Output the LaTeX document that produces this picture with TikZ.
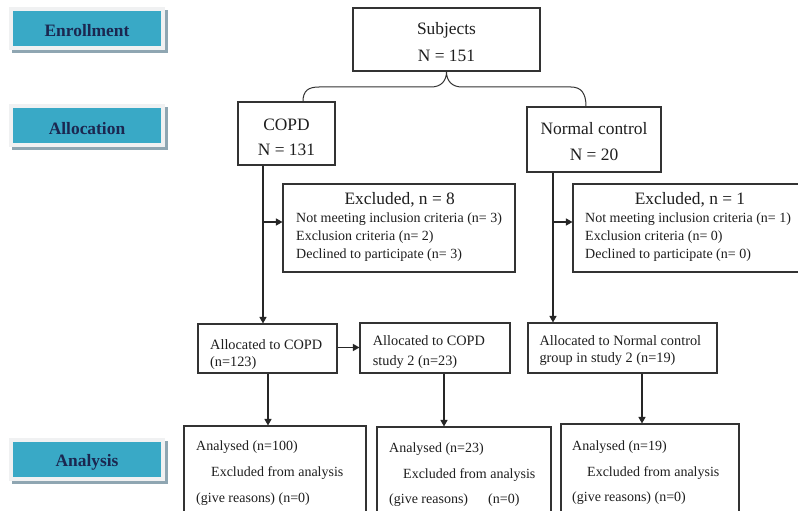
\documentclass[tikz,border=0pt]{standalone}
\usepackage{fontspec}
\setmainfont{Liberation Serif}
\usetikzlibrary{arrows.meta,fit}
\definecolor{cyanbox}{HTML}{39A9C6}
\definecolor{labeltext}{HTML}{1B2750}
\definecolor{shadowc}{HTML}{8FA6B2}
\definecolor{outerc}{HTML}{F0F1F2}
\definecolor{boxline}{HTML}{333333}
\definecolor{txt}{HTML}{1E1E1E}
\begin{document}
\begin{tikzpicture}[x=1pt,y=-1pt,
  box/.style={draw=boxline,line width=1.1pt,inner sep=0pt},
  big/.style={font=\fontsize{17.4}{20}\selectfont,text=txt,inner sep=0pt},
  small/.style={font=\fontsize{14}{16}\selectfont,text=txt,inner sep=0pt,anchor=base west},
  mid/.style={font=\fontsize{14.3}{16}\selectfont,text=txt,inner sep=0pt,anchor=base west},
  lab/.style={font=\fontsize{17.4}{20}\selectfont\bfseries,text=labeltext,inner sep=0pt,anchor=base},
  arr/.style={draw=black!85,line width=1.3pt,-{Triangle[length=6.5pt,width=7pt]}},
  conn/.style={draw=black!80,line width=1pt}]
\useasboundingbox (0,0) rectangle (798,511);
\fill[white] (0,0) rectangle (798,511);
\clip (0,0) rectangle (798,511);

% stage labels
\fill[shadowc] (12,10) rectangle (168,53);
\fill[outerc] (9,7) rectangle (165,50);
\fill[cyanbox] (13,11) rectangle (161,46);
\node[lab] (lenr) at (87,36.7) {Enrollment};
\fill[shadowc] (12,107) rectangle (168,150);
\fill[outerc] (9,104) rectangle (165,147);
\fill[cyanbox] (13,108) rectangle (161,143);
\node[lab] (lall) at (87,134) {Allocation};
\fill[shadowc] (12,441) rectangle (168,484);
\fill[outerc] (9,438) rectangle (165,481);
\fill[cyanbox] (13,442) rectangle (161,477);
\node[lab] (lana) at (87,466.7) {Analysis};

% boxes
\node[box,fit={(353,8) (540,71)}] (subj) {};
\node[box,fit={(238,102) (335,165)}] (copd) {};
\node[box,fit={(527,107) (661,172)}] (normal) {};
\node[box,fit={(283,184) (515,272)}] (excl1) {};
\node[box,fit={(573,184) (810,272)}] (excl2) {};
\node[box,fit={(198,324) (337,373)}] (alloc1) {};
\node[box,fit={(360,323) (510,373)}] (alloc2) {};
\node[box,fit={(528,323) (717,373)}] (alloc3) {};
\node[box,fit={(184,426) (366,520)}] (an1) {};
\node[box,fit={(377,427) (551,520)}] (an2) {};
\node[box,fit={(561,424) (739,520)}] (an3) {};

% texts
\node[big,anchor=base] (t1) at (446.5,35) {Subjects};
\node[big,anchor=base] (t2) at (446.5,61.7) {N = 151};
\node[big,anchor=base] (t3) at (286.5,130) {COPD};
\node[big,anchor=base] (t4) at (286.5,155) {N = 131};
\node[big,anchor=base] (t5) at (594,134) {Normal control};
\node[big,anchor=base] (t6) at (594,160) {N = 20};

\node[big,anchor=base] (e1t) at (399.7,204) {Excluded, n = 8};
\node[small] (e1a) at (296,222.3) {Not meeting inclusion criteria (n= 3)};
\node[small] (e1b) at (296,240.7) {Exclusion criteria (n= 2)};
\node[small] (e1c) at (296,258.3) {Declined to participate (n= 3)};
\node[big,anchor=base] (e2t) at (690,204) {Excluded, n = 1};
\node[small] (e2a) at (585,222.3) {Not meeting inclusion criteria (n= 1)};
\node[small] (e2b) at (585,240.7) {Exclusion criteria (n= 0)};
\node[small] (e2c) at (585,258.3) {Declined to participate (n= 0)};

\node[mid] (a1a) at (210,349) {Allocated to COPD};
\node[mid] (a1b) at (210,366.7) {(n=123)};
\node[mid] (a2a) at (372.7,345) {Allocated to COPD};
\node[mid] (a2b) at (372.7,365) {study 2 (n=23)};
\node[mid] (a3a) at (539.3,345) {Allocated to Normal control};
\node[mid] (a3b) at (539.3,362.7) {group in study 2 (n=19)};

\node[small] (n1a) at (196,450.7) {Analysed (n=100)};
\node[small] (n1b) at (211,476.7) {Excluded from analysis};
\node[small] (n1c) at (196,502) {(give reasons) (n=0)};
\node[small] (n2a) at (389,452.3) {Analysed (n=23)};
\node[small] (n2b) at (403,478.3) {Excluded from analysis};
\node[small] (n2c) at (389,503) {(give reasons)};
\node[small] (n2d) at (488,503) {(n=0)};
\node[small] (n3a) at (572,450) {Analysed (n=19)};
\node[small] (n3b) at (587,476) {Excluded from analysis};
\node[small] (n3c) at (572,501) {(give reasons) (n=0)};

% helper coordinates
\coordinate (xL) at (263,0);
\coordinate (xR) at (553,0);
\coordinate (xA1) at (268,0);
\coordinate (xA2) at (444,0);
\coordinate (xA3) at (642,0);
\coordinate (xBl) at (303,0);
\coordinate (xBr) at (586,0);
\coordinate (yE) at (0,222);
\coordinate (yH) at (0,347.5);

% brace
\draw[conn] (xBl |- copd.north) .. controls (303,91) and (308,87) .. (319,87)
  -- (431,87) .. controls (441,87) and (446.5,81) .. (subj.south)
  .. controls (446.5,81) and (452,87) .. (462,87)
  -- (571,87) .. controls (581,87) and (586,93) .. (xBr |- normal.north);

% arrows
\draw[arr] (xL |- copd.south) -- (xL |- alloc1.north);
\draw[arr] (xL |- yE) -- (excl1.west |- yE);
\draw[arr] (xR |- normal.south) -- (xR |- alloc3.north);
\draw[arr] (xR |- yE) -- (excl2.west |- yE);
\draw[arr] (alloc1.east |- yH) -- (alloc2.west |- yH);
\draw[arr] (xA1 |- alloc1.south) -- (xA1 |- an1.north);
\draw[arr] (xA2 |- alloc2.south) -- (xA2 |- an2.north);
\draw[arr] (xA3 |- alloc3.south) -- (xA3 |- an3.north);
\end{tikzpicture}
\end{document}
